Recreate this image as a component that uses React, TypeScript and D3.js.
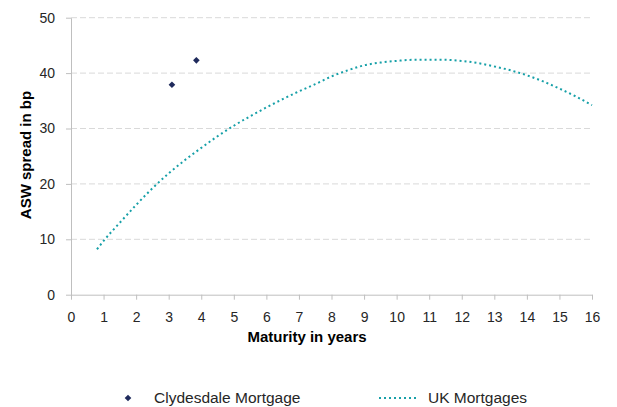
import { useEffect, useRef } from 'react';
import * as d3 from 'd3';

const clydesdaleMaturity = [3.1, 3.85];
const clydesdaleSpread = [37.9, 42.3];

const ukMaturity = [0.8, 1, 1.5, 2, 2.5, 3, 3.5, 4, 4.5, 5, 5.5, 6, 6.5, 7, 7.5, 8, 8.5, 9, 9.5, 10, 10.5, 11, 11.5, 12, 12.5, 13, 13.5, 14, 14.5, 15, 15.5, 16];
const ukSpread = [8.2, 9.7, 13.0, 16.2, 19.2, 21.9, 24.3, 26.5, 28.6, 30.5, 32.2, 33.8, 35.3, 36.7, 38.0, 39.4, 40.5, 41.4, 41.9, 42.2, 42.4, 42.4, 42.4, 42.2, 41.8, 41.2, 40.5, 39.6, 38.5, 37.2, 35.8, 34.2];

const xTicks = d3.range(0, 17);
const yTicks = [0, 10, 20, 30, 40, 50];

const xTitle = 'Maturity in years';
const yTitle = 'ASW spread in bp';
const legendLabels = ['Clydesdale Mortgage', 'UK Mortgages'];

const FONT = '"Liberation Sans", "DejaVu Sans", sans-serif';

export default function App() {
  const svgRef = useRef<SVGSVGElement>(null);

  useEffect(() => {
    if (!svgRef.current) return;
    const svg = d3.select(svgRef.current);
    svg.selectAll('*').remove();

    const margin = { top: 17.7, right: 25, bottom: 112.3, left: 71 };
    const height = 407;
    const innerWidth = 592 - margin.left;
    const innerHeight = height - margin.top - margin.bottom;

    const x = d3.scaleLinear().domain([0, 16]).range([0, innerWidth]);
    const y = d3.scaleLinear().domain([0, 50]).range([innerHeight, 0]);

    const g = svg.append('g').attr('transform', `translate(${margin.left},${margin.top})`);

    // gridlines
    g.selectAll('line.grid')
      .data(yTicks.filter((d) => d > 0))
      .join('line')
      .attr('class', 'grid')
      .attr('x1', 0)
      .attr('x2', innerWidth)
      .attr('y1', (d) => y(d))
      .attr('y2', (d) => y(d))
      .attr('stroke', '#d9d9d9')
      .attr('stroke-width', 1)
      .attr('stroke-dasharray', '6,3');

    // x axis
    const xAxis = g.append('g').attr('transform', `translate(0,${innerHeight})`)
      .call(d3.axisBottom(x).tickValues(xTicks).tickSize(5).tickSizeOuter(0).tickPadding(12));
    xAxis.select('.domain').attr('stroke', '#bfbfbf');
    xAxis.selectAll('line').attr('stroke', '#bfbfbf');
    xAxis.selectAll('text').attr('font-family', FONT).attr('font-size', 14).attr('fill', '#262626');

    // y axis
    const yAxis = g.append('g')
      .call(d3.axisLeft(y).tickValues(yTicks).tickSize(5).tickSizeOuter(0).tickPadding(11));
    yAxis.select('.domain').attr('stroke', '#bfbfbf');
    yAxis.selectAll('line').attr('stroke', '#bfbfbf');
    yAxis.selectAll('text').attr('font-family', FONT).attr('font-size', 14).attr('fill', '#262626');

    // UK curve
    const ukData = ukMaturity.map((m, i) => [m, ukSpread[i]] as [number, number]);
    const line = d3.line<[number, number]>()
      .x((d) => x(d[0]))
      .y((d) => y(d[1]))
      .curve(d3.curveMonotoneX);
    g.append('path')
      .datum(ukData)
      .attr('fill', 'none')
      .attr('stroke', '#17a0a8')
      .attr('stroke-width', 2)
      .attr('stroke-dasharray', '2,3')
      .attr('d', line);

    // Clydesdale points
    const diamond = d3.symbol().type(d3.symbolSquare).size(22);
    g.selectAll('path.pt')
      .data(clydesdaleMaturity.map((m, i) => [m, clydesdaleSpread[i]]))
      .join('path')
      .attr('class', 'pt')
      .attr('d', diamond)
      .attr('transform', (d) => `translate(${x(d[0])},${y(d[1])}) rotate(45)`)
      .attr('fill', '#1f2a5c');

    // axis titles
    svg.append('text')
      .attr('x', 307)
      .attr('y', 342)
      .attr('text-anchor', 'middle')
      .attr('font-family', FONT)
      .attr('font-size', 15)
      .attr('font-weight', 'bold')
      .attr('fill', '#000')
      .text(xTitle);

    svg.append('text')
      .attr('transform', `translate(31,155) rotate(-90)`)
      .attr('text-anchor', 'middle')
      .attr('font-family', FONT)
      .attr('font-size', 15)
      .attr('font-weight', 'bold')
      .attr('fill', '#000')
      .text(yTitle);

    // legend
    const legY = 398;
    svg.append('path')
      .attr('d', diamond)
      .attr('transform', `translate(128,${legY}) rotate(45)`)
      .attr('fill', '#1f2a5c');
    svg.append('text')
      .attr('x', 154)
      .attr('y', legY + 5)
      .attr('font-family', FONT)
      .attr('font-size', 15.5)
      .attr('fill', '#262626')
      .text(legendLabels[0]);

    svg.append('line')
      .attr('x1', 379)
      .attr('x2', 419)
      .attr('y1', legY)
      .attr('y2', legY)
      .attr('stroke', '#17a0a8')
      .attr('stroke-width', 2)
      .attr('stroke-dasharray', '2,3');
    svg.append('text')
      .attr('x', 428)
      .attr('y', legY + 5)
      .attr('font-family', FONT)
      .attr('font-size', 15.5)
      .attr('fill', '#262626')
      .text(legendLabels[1]);
  }, []);

  return (
    <div style={{ position: 'absolute', left: 0, top: 0, background: '#fff' }}>
      <svg ref={svgRef} width={617} height={407} />
    </div>
  );
}
